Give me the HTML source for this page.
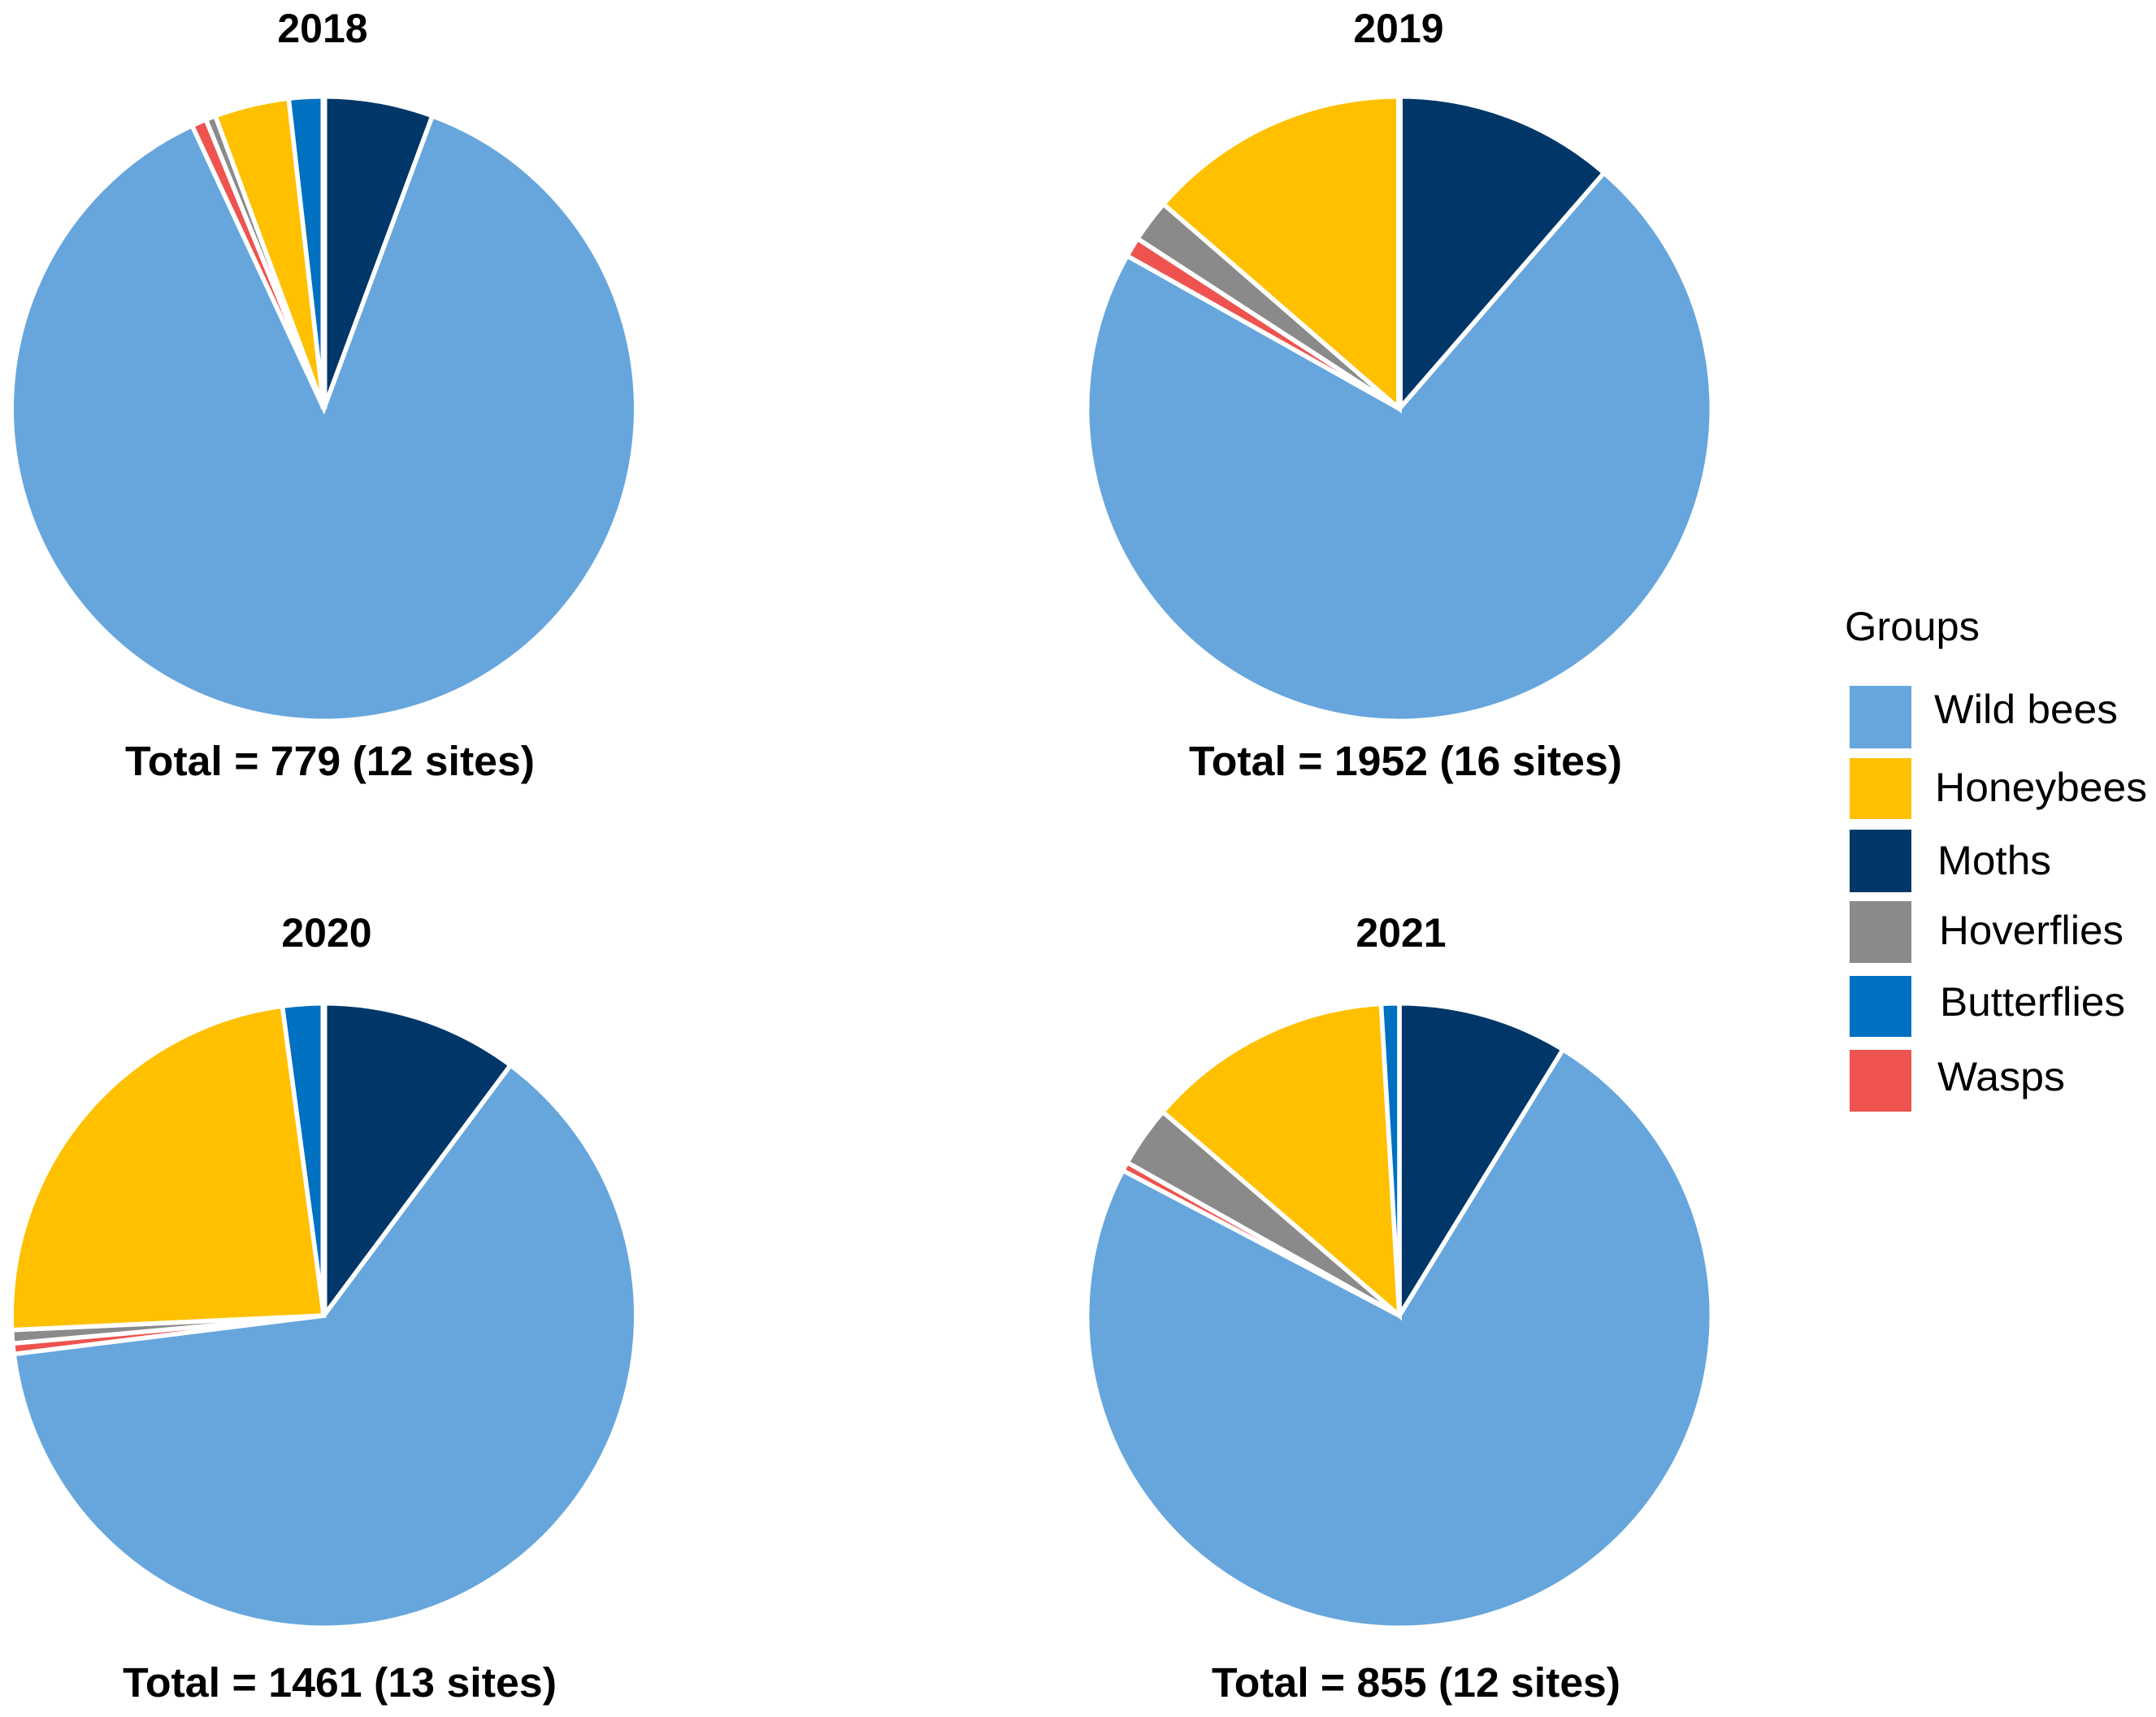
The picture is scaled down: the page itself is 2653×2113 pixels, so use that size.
<!DOCTYPE html>
<html lang="en">
<head>
<meta charset="utf-8">
<title>Pollinator groups by year</title>
<style>
  html, body { margin: 0; padding: 0; background: #fff; }
  svg { display: block; }
  text { font-family: "Liberation Sans", sans-serif; fill: #000; }
  .t { font-weight: 700; }
  .l { font-size: 50px; }
</style>
</head>
<body>
<svg id="chart" xmlns="http://www.w3.org/2000/svg" width="2653" height="2113" viewBox="0 0 2653 2113">
  <rect x="0" y="0" width="2653" height="2113" fill="#fff"/>
  <g id="pies"></g>

  <text class="t" x="397" y="52" font-size="50" text-anchor="middle">2018</text>
  <text class="t" x="1721" y="52" font-size="50" text-anchor="middle">2019</text>
  <text class="t" x="402" y="1165" font-size="50" text-anchor="middle">2020</text>
  <text class="t" x="1724" y="1165" font-size="50" text-anchor="middle">2021</text>

  <text class="t" x="154" y="954" font-size="51" textLength="504" lengthAdjust="spacingAndGlyphs">Total = 779 (12 sites)</text>
  <text class="t" x="1463" y="954" font-size="51" textLength="533" lengthAdjust="spacingAndGlyphs">Total = 1952 (16 sites)</text>
  <text class="t" x="151" y="2088" font-size="51" textLength="534" lengthAdjust="spacingAndGlyphs">Total = 1461 (13 sites)</text>
  <text class="t" x="1491" y="2088" font-size="51" textLength="503" lengthAdjust="spacingAndGlyphs">Total = 855 (12 sites)</text>

  <g>
    <text class="l" x="2270" y="788" textLength="166" lengthAdjust="spacingAndGlyphs">Groups</text>

    <rect x="2276" y="844" width="76" height="77" fill="#66A6DD"/>
    <text class="l" x="2380" y="890" textLength="226" lengthAdjust="spacingAndGlyphs">Wild bees</text>

    <rect x="2276" y="933" width="76" height="75" fill="#FFC000"/>
    <text class="l" x="2381" y="986" textLength="261" lengthAdjust="spacingAndGlyphs">Honeybees</text>

    <rect x="2276" y="1021" width="76" height="77" fill="#003768"/>
    <text class="l" x="2384" y="1076" textLength="140" lengthAdjust="spacingAndGlyphs">Moths</text>

    <rect x="2276" y="1109" width="76" height="76" fill="#8A8A8A"/>
    <text class="l" x="2386" y="1162" textLength="227" lengthAdjust="spacingAndGlyphs">Hoverflies</text>

    <rect x="2276" y="1201" width="76" height="75" fill="#0070C0"/>
    <text class="l" x="2387" y="1250" textLength="228" lengthAdjust="spacingAndGlyphs">Butterflies</text>

    <rect x="2276" y="1292" width="76" height="76" fill="#EE534F"/>
    <text class="l" x="2384" y="1342" textLength="157" lengthAdjust="spacingAndGlyphs">Wasps</text>
  </g>
</svg>
<script>
// Slice order runs clockwise from 12 o'clock.
const groups = ["Moths", "Wild bees", "Wasps", "Hoverflies", "Honeybees", "Butterflies"];
const groupColors = ["#003768", "#66A6DD", "#EE534F", "#8A8A8A", "#FFC000", "#0070C0"];
const years = ["2018", "2019", "2020", "2021"];
const counts2018 = [44, 681, 6, 4, 30, 14];
const counts2019 = [222, 1401, 20, 43, 266, 0];
const counts2020 = [149, 918, 8, 10, 345, 31];
const counts2021 = [75, 632, 4, 27, 109, 8];
const countsByYear = [counts2018, counts2019, counts2020, counts2021];

const SVG_NS = "http://www.w3.org/2000/svg";
const radius = 384.3;
const sliceStroke = 5.6;
const columnX = [398.5, 1722];
const rowY = [503, 1619];

function pieCenter(index) {
  return { x: columnX[index % 2], y: rowY[Math.floor(index / 2)] };
}

function angleScale(count, total) {
  return (count / total) * 2 * Math.PI;
}

function polar(center, angle) {
  return {
    x: center.x + radius * Math.sin(angle),
    y: center.y - radius * Math.cos(angle)
  };
}

function slicePath(center, start, end) {
  const a = polar(center, start);
  const b = polar(center, end);
  const large = end - start > Math.PI ? 1 : 0;
  return "M" + center.x + " " + center.y +
    "L" + a.x.toFixed(2) + " " + a.y.toFixed(2) +
    "A" + radius + " " + radius + " 0 " + large + " 1 " + b.x.toFixed(2) + " " + b.y.toFixed(2) + "Z";
}

const piesLayer = document.getElementById("pies");

countsByYear.forEach(function (counts, yearIndex) {
  const center = pieCenter(yearIndex);
  const total = counts.reduce(function (sum, v) { return sum + v; }, 0);
  const pie = document.createElementNS(SVG_NS, "g");
  
  
  let cursor = 0;
  counts.forEach(function (count, groupIndex) {
    if (count <= 0) { return; }
    const next = cursor + angleScale(count, total);
    const slice = document.createElementNS(SVG_NS, "path");
    slice.setAttribute("d", slicePath(center, cursor, next));
    slice.setAttribute("fill", groupColors[groupIndex]);
    slice.setAttribute("stroke", "#fff");
    slice.setAttribute("stroke-width", String(sliceStroke));
    slice.setAttribute("stroke-linejoin", "miter");
    
    
    pie.appendChild(slice);
    cursor = next;
  });
  // The 12 o'clock seam is visibly wider in the first three panels.
  if (yearIndex < 3) {
    const seam = document.createElementNS(SVG_NS, "line");
    seam.setAttribute("x1", String(center.x));
    seam.setAttribute("y1", String(center.y));
    seam.setAttribute("x2", String(center.x));
    seam.setAttribute("y2", String(center.y - radius - 4));
    seam.setAttribute("stroke", "#fff");
    seam.setAttribute("stroke-width", "8");
    
    
    pie.appendChild(seam);
  }
  piesLayer.appendChild(pie);
});
</script>
</body>
</html>
